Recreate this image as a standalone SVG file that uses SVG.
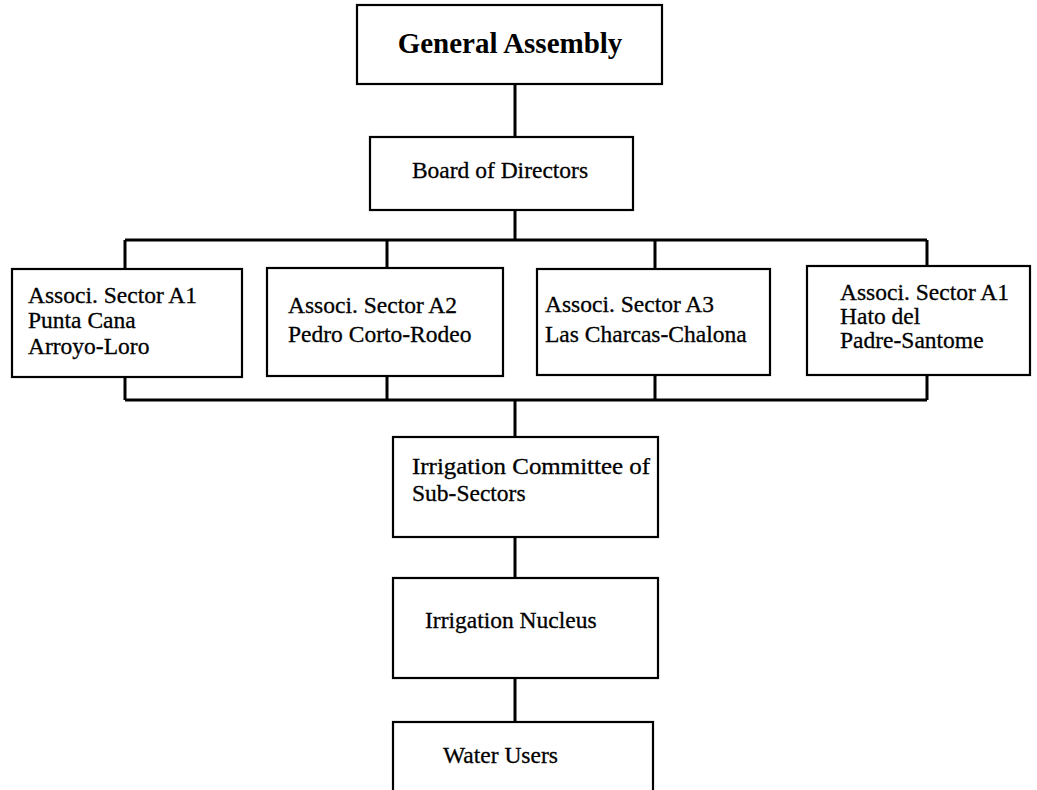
<svg xmlns="http://www.w3.org/2000/svg" width="1037" height="790" viewBox="0 0 1037 790">
<style>
.box{fill:#fff;stroke:#000;stroke-width:2.2}
.con{fill:none;stroke:#000;stroke-width:3}
.t{font-family:"Liberation Serif","Times New Roman",serif;font-size:23.5px;fill:#000;stroke:#000;stroke-width:0.3}
.tb{font-family:"Liberation Serif","Times New Roman",serif;font-size:29px;font-weight:bold;fill:#000}
</style>
<rect width="1037" height="790" fill="#fff"/>
<g id="connectors">
<path class="con" d="M515 84V137M515 210V240M125 240H927M125 240V269M387 240V268M655 240V269M927 240V266"/>
<path class="con" d="M125 377V400M387 376V400M655 375V400M927 375V400M125 400H927M515 400V437M515 537V578M515 678V722"/>
</g>
<g id="general-assembly">
<rect class="box" x="357" y="5" width="305" height="79"/>
<text class="tb" x="510" y="53" text-anchor="middle">General Assembly</text>
</g>
<g id="board">
<rect class="box" x="370" y="137" width="263" height="73"/>
<text class="t" x="500" y="178" text-anchor="middle">Board of Directors</text>
</g>
<g id="sector-a1">
<rect class="box" x="12" y="269" width="230" height="108"/>
<text class="t" x="28" y="303">Associ. Sector A1</text>
<text class="t" x="28" y="328">Punta Cana</text>
<text class="t" x="28" y="354">Arroyo-Loro</text>
</g>
<g id="sector-a2">
<rect class="box" x="267" y="268" width="236" height="108"/>
<text class="t" x="288" y="313">Associ. Sector A2</text>
<text class="t" x="288" y="342">Pedro Corto-Rodeo</text>
</g>
<g id="sector-a3">
<rect class="box" x="537" y="269" width="233" height="106"/>
<text class="t" x="545" y="312">Associ. Sector A3</text>
<text class="t" x="545" y="342">Las Charcas-Chalona</text>
</g>
<g id="sector-a1b">
<rect class="box" x="807" y="266" width="223" height="109"/>
<text class="t" x="840" y="300">Associ. Sector A1</text>
<text class="t" x="840" y="324">Hato del</text>
<text class="t" x="840" y="348">Padre-Santome</text>
</g>
<g id="irrigation-committee">
<rect class="box" x="393" y="437" width="265" height="100"/>
<text class="t" x="412" y="474" textLength="238" lengthAdjust="spacingAndGlyphs">Irrigation Committee of</text>
<text class="t" x="412" y="501">Sub-Sectors</text>
</g>
<g id="irrigation-nucleus">
<rect class="box" x="393" y="578" width="265" height="100"/>
<text class="t" x="425" y="628">Irrigation Nucleus</text>
</g>
<g id="water-users">
<rect class="box" x="393" y="722" width="260" height="80"/>
<text class="t" x="443" y="763">Water Users</text>
</g>
</svg>
